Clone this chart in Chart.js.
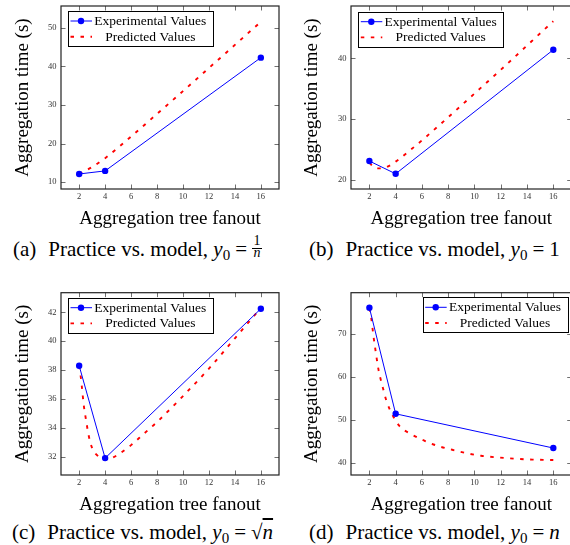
<!DOCTYPE html>
<html><head><meta charset="utf-8">
<script src="https://cdn.jsdelivr.net/npm/chart.js@4.4.1/dist/chart.umd.min.js"></script>
<style>
html,body{margin:0;padding:0;background:#fff;}
body{width:570px;height:545px;overflow:hidden;position:relative;font-family:"Liberation Serif","Times New Roman",serif;}
canvas{position:absolute;}
.cap{position:absolute;font-size:21px;line-height:21px;white-space:nowrap;color:#000;}
.cap .gap{display:inline-block;width:12px;}
.cap sub{font-size:15px;line-height:0;vertical-align:-4px;}
.cap .eq{margin:0 5px;}
.frac{display:inline-block;position:relative;width:10px;height:10px;}
.frac .num,.frac .den{position:absolute;left:0;width:100%;text-align:center;font-size:14px;line-height:14px;}
.frac .num{top:-12px;}
.frac .den{top:0px;}
.frac .bar{position:absolute;left:0;width:100%;top:2px;border-top:1px solid #000;}
.ol{text-decoration:overline;}
</style></head><body>
<canvas id="cA" width="285" height="232" style="left:0;top:0"></canvas>
<canvas id="cB" width="290" height="232" style="left:285px;top:0"></canvas>
<canvas id="cC" width="285" height="232" style="left:0;top:286px"></canvas>
<canvas id="cD" width="290" height="232" style="left:285px;top:286px"></canvas>

<div class="cap" style="left:13px;top:238.5px">(a)<span class="gap"></span>Practice vs. model, <i>y</i><sub>0</sub><span class="eq">=</span><span class="frac"><span class="num">1</span><span class="bar"></span><span class="den"><i>n</i></span></span></div>
<div class="cap" style="left:309px;top:238.5px">(b)<span class="gap"></span>Practice vs. model, <i>y</i><sub>0</sub><span class="eq">=</span>1</div>
<div class="cap" style="left:12px;top:521.5px">(c)<span class="gap"></span>Practice vs. model, <i>y</i><sub>0</sub><span class="eq">=</span>√<span class="ol"><i>n</i></span></div>
<div class="cap" style="left:309px;top:521.5px">(d)<span class="gap"></span>Practice vs. model, <i>y</i><sub>0</sub><span class="eq">=</span><i>n</i></div>

<script>
// ---- data ----
const fanout = [2, 4, 16];
const expA = [12.1, 12.9, 42.3];
const expB = [23.1, 21.0, 41.4];
const expC = [38.3, 31.9, 42.25];
const expD = [76.2, 51.4, 43.4];

const predA_n = [2, 3, 4, 6, 8, 10, 12, 14, 16];
const predA   = [12.1, 13.9, 16.2, 21.8, 27.7, 33.6, 39.6, 45.6, 51.6];

const predB_n = [2, 2.5, 3, 3.5, 4, 5, 6, 8, 10, 12, 14, 16];
const predB   = [22.8, 21.9, 21.9, 22.3, 23.0, 24.7, 26.5, 30.3, 34.2, 38.1, 42.1, 46.1];

const predC_n = [2, 2.1, 2.2, 2.35, 2.5, 2.75, 3, 3.5, 4, 4.5, 5, 6, 7, 8, 10, 12, 14, 16];
const predC   = [38.3, 37.7, 36.9, 35.6, 34.7, 33.4, 32.6, 32.0, 31.8, 31.9, 32.15, 32.8, 33.6, 34.4, 36.2, 38.1, 40.2, 42.3];

const predD_n = [2, 2.15, 2.3, 2.5, 2.7, 3, 3.3, 3.8, 4.3, 5.2, 6.2, 7.2, 8.3, 9.4, 10.5, 11.8, 13.1, 14.4, 16];
const predD   = [76.1, 73.6, 69.8, 65.5, 61.6, 57.8, 54.4, 50.9, 48.5, 46.6, 45.1, 43.9, 43.0, 42.2, 41.6, 41.2, 40.9, 40.7, 40.6];

const xTicks = [2, 4, 6, 8, 10, 12, 14, 16];
const yTicksA = [10, 20, 30, 40, 50];
const yTicksB = [20, 30, 40];
const yTicksC = [32, 34, 36, 38, 40, 42];
const yTicksD = [40, 50, 60, 70];

const seriesLabels = ['Experimental Values', 'Predicted Values'];
const xTitle = 'Aggregation tree fanout';
const yTitle = 'Aggregation time (s)';

// ---- drawing ----
const FONT = "'Liberation Serif','Times New Roman',serif";

const boxPlugin = {
  id: 'pgfBox',
  beforeDatasetsDraw(chart) {
    const {ctx, chartArea: a, scales: {x, y}} = chart;
    ctx.save();
    ctx.strokeStyle = '#707070'; ctx.lineWidth = 1;
    ctx.beginPath();
    x.ticks.forEach(t => {
      const px = Math.round(x.getPixelForValue(t.value)) + 0.5;
      ctx.moveTo(px, a.bottom); ctx.lineTo(px, a.bottom - 4.5);
      ctx.moveTo(px, a.top); ctx.lineTo(px, a.top + 4.5);
    });
    y.ticks.forEach(t => {
      const py = Math.round(y.getPixelForValue(t.value)) + 0.5;
      ctx.moveTo(a.left, py); ctx.lineTo(a.left + 4.5, py);
      ctx.moveTo(a.right, py); ctx.lineTo(a.right - 4.5, py);
    });
    ctx.stroke();
    ctx.strokeStyle = '#222'; ctx.lineWidth = 1.2;
    ctx.strokeRect(a.left, a.top, a.right - a.left, a.bottom - a.top);
    ctx.restore();
  }
};

const legendPlugin = {
  id: 'pgfLegend',
  afterDatasetsDraw(chart, args, o) {
    const {ctx, chartArea: a} = chart;
    const w = 145, h = 35;
    const left = o.corner === 'ne' ? a.right - o.dx - w : a.left + o.dx;
    const top = a.top + o.dy;
    ctx.save();
    ctx.fillStyle = '#fff'; ctx.fillRect(left, top, w, h);
    ctx.strokeStyle = '#000'; ctx.lineWidth = 1;
    ctx.strokeRect(Math.round(left) + 0.5, Math.round(top) + 0.5, w, h);
    chart.data.datasets.forEach((ds, i) => {
      const yy = top + (i === 0 ? 10 : 25.7);
      ctx.strokeStyle = ds.borderColor; ctx.lineWidth = ds.borderWidth;
      ctx.setLineDash(ds.borderDash || []);
      ctx.beginPath(); ctx.moveTo(left + 2.5, yy); ctx.lineTo(left + 24, yy); ctx.stroke();
      ctx.setLineDash([]);
      if (ds.pointRadius > 0) {
        ctx.fillStyle = ds.pointBackgroundColor;
        ctx.beginPath(); ctx.arc(left + 13, yy, ds.pointRadius, 0, 2 * Math.PI); ctx.fill();
      }
      ctx.fillStyle = '#000'; ctx.font = '13.5px ' + FONT;
      ctx.textAlign = 'center'; ctx.textBaseline = 'middle';
      ctx.fillText(ds.label, left + 82.3, yy + 0.5);
    });
    ctx.restore();
  }
};

function pts(xs, ys) { return xs.map((v, i) => ({x: v, y: ys[i]})); }

function makeChart(id, exp, pn, pv, yTicks, yMin, yMax, cfg) {
  new Chart(document.getElementById(id), {
    type: 'scatter',
    data: {
      datasets: [
        { label: seriesLabels[0], data: pts(fanout, exp), showLine: true,
          borderColor: '#0000ff', backgroundColor: '#0000ff', borderWidth: 1,
          pointRadius: 3.2, pointBackgroundColor: '#0000ff', pointBorderWidth: 0, pointHoverRadius: 3.2 },
        { label: seriesLabels[1], data: pts(pn, pv), showLine: true,
          borderColor: '#ff0000', backgroundColor: '#ff0000', borderWidth: 1.9, borderDash: [3.5, 6.5],
          pointRadius: 0, cubicInterpolationMode: 'monotone' }
      ]
    },
    options: {
      responsive: false, animation: false, devicePixelRatio: 1,
      layout: { padding: { left: 0, top: cfg.top, right: cfg.right, bottom: 0 } },
      plugins: { legend: { display: false }, tooltip: { enabled: false },
        pgfLegend: cfg.legend },
      scales: {
        x: { type: 'linear', min: 0.6, max: 17.4,
          afterBuildTicks: s => { s.ticks = xTicks.map(v => ({value: v})); },
          afterFit: s => { s.height = 43; s.paddingLeft = 0; s.paddingRight = 0; s.paddingTop = 0; s.paddingBottom = 0; },
          grid: { display: false, drawTicks: false }, border: { display: false },
          ticks: { font: { family: FONT, size: 8.5 }, color: '#333', padding: 2.2, maxRotation: 0, autoSkip: false },
          title: { display: true, text: xTitle, color: '#000', font: { family: FONT, size: 19 }, padding: { top: 0, bottom: 1.6 } } },
        y: { type: 'linear', min: yMin, max: yMax,
          afterBuildTicks: s => { s.ticks = yTicks.map(v => ({value: v})); },
          afterFit: s => { s.width = cfg.yw; s.paddingLeft = 0; s.paddingRight = 0; s.paddingTop = 0; s.paddingBottom = 0; },
          grid: { display: false, drawTicks: false }, border: { display: false },
          ticks: { font: { family: FONT, size: 8.5 }, color: '#333', padding: 4.5, autoSkip: false },
          title: { display: true, text: yTitle, color: '#000', font: { family: FONT, size: 19 }, padding: { top: cfg.ytp, bottom: 0 } } }
      }
    },
    plugins: [boxPlugin, legendPlugin]
  });
}

makeChart('cA', expA, predA_n, predA, yTicksA, 8.2, 55.7,
  { top: 6, right: 6, yw: 61, ytp: 11.9, legend: { corner: 'nw', dx: 7, dy: 5 } });
makeChart('cB', expB, predB_n, predB, yTicksB, 18.5, 48.6,
  { top: 6, right: 3.3, yw: 66, ytp: 15.6, legend: { corner: 'nw', dx: 7.3, dy: 5.7 } });
makeChart('cC', expC, predC_n, predC, yTicksC, 30.73, 43.36,
  { top: 6.7, right: 6, yw: 61, ytp: 11.9, legend: { corner: 'nw', dx: 7, dy: 5 } });
makeChart('cD', expD, predD_n, predD, yTicksD, 37.1, 79.7,
  { top: 6.7, right: 3.3, yw: 66, ytp: 15.6, legend: { corner: 'ne', dx: 4, dy: 4.6 } });
</script>
</body></html>
